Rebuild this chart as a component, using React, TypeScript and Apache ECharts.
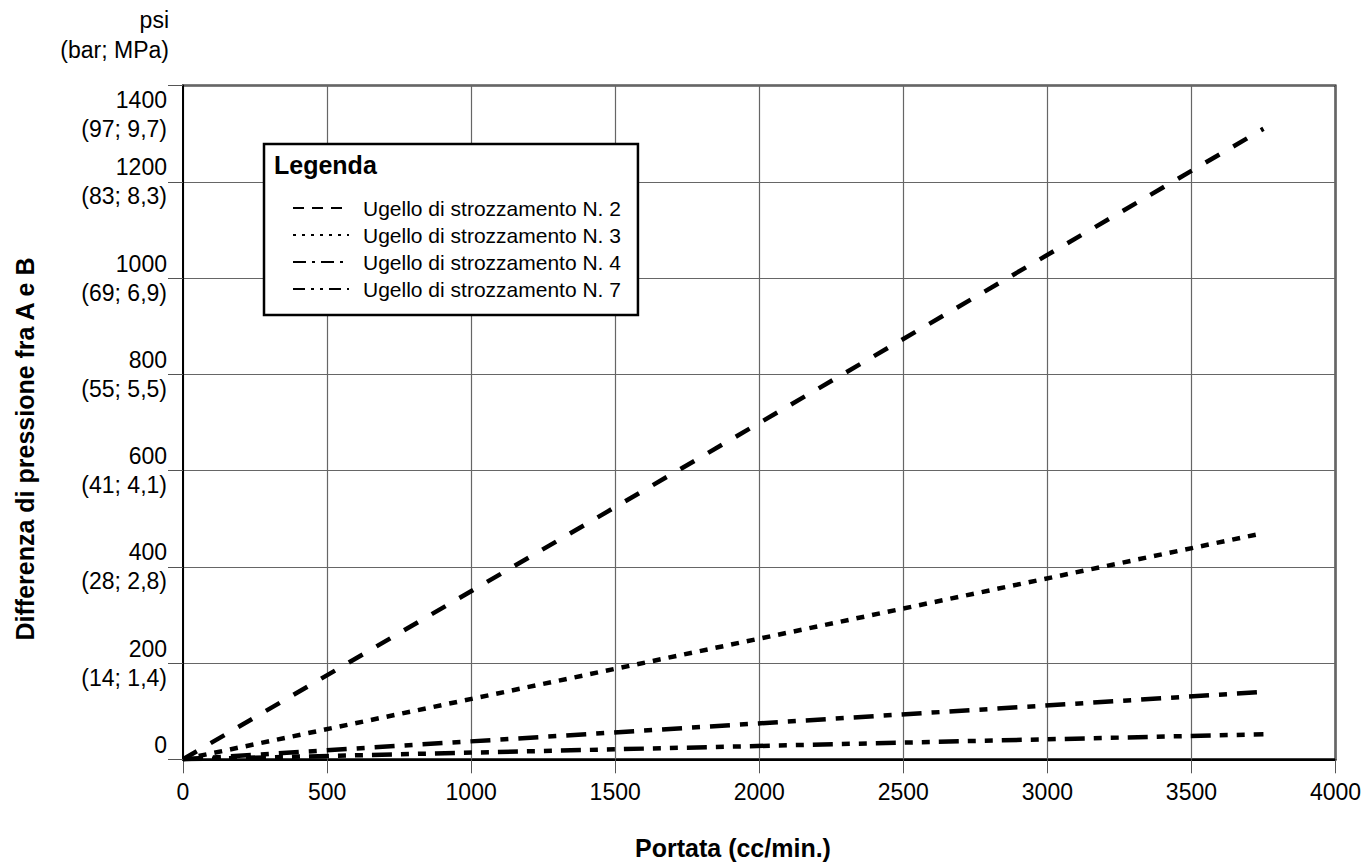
import React, { useEffect, useRef } from "react";
import * as echarts from "echarts";

const FONT = "'Liberation Sans', Arial, Helvetica, sans-serif";

const xTicks = [0, 500, 1000, 1500, 2000, 2500, 3000, 3500, 4000];
const yTicks = [0, 200, 400, 600, 800, 1000, 1200, 1400];
const yAltLabels = ["", "(14; 1,4)", "(28; 2,8)", "(41; 4,1)", "(55; 5,5)", "(69; 6,9)", "(83; 8,3)", "(97; 9,7)"];

const seriesNames = [
  "Ugello di strozzamento N. 2",
  "Ugello di strozzamento N. 3",
  "Ugello di strozzamento N. 4",
  "Ugello di strozzamento N. 7",
];
const flowX = [0, 3750];
const nozzle2 = [0, 1310];
const nozzle3 = [0, 470];
const nozzle4 = [0, 140];
const nozzle7 = [0, 52];

const seriesValues = [nozzle2, nozzle3, nozzle4, nozzle7];
const lineDash = [
  [16, 16],
  [8, 8],
  [20, 10, 8, 10],
  [20, 9, 8, 9, 8, 9],
];
const legendDash = [
  [11, 8],
  [3, 6],
  [13, 6, 3, 6],
  [12, 6, 3, 6, 3, 6],
];

export default function App() {
  const ref = useRef<HTMLDivElement>(null);
  useEffect(() => {
    if (!ref.current) return;
    const chart = echarts.init(ref.current, null, { renderer: "svg" });
    chart.setOption({
      animation: false,
      backgroundColor: "#ffffff",
      textStyle: { fontFamily: FONT },
      grid: {
        left: 183,
        top: 85.5,
        right: 35.5,
        bottom: 105.7,
        show: true,
        borderColor: "#000",
        borderWidth: 2,
        backgroundColor: "transparent",
      },
      xAxis: {
        type: "value",
        min: xTicks[0],
        max: xTicks[xTicks.length - 1],
        interval: 500,
        axisLine: { show: true, onZero: false, lineStyle: { color: "#000", width: 2 } },
        axisTick: { show: true, length: 14, lineStyle: { color: "#555", width: 1 } },
        axisLabel: {
          color: "#000",
          fontSize: 23,
          fontFamily: FONT,
          margin: 21,
          formatter: (v: number) => String(v),
        },
        splitLine: { show: true, lineStyle: { color: "#666", width: 1.2 } },
      },
      yAxis: {
        type: "value",
        min: yTicks[0],
        max: yTicks[yTicks.length - 1],
        interval: 200,
        axisLine: { show: true, onZero: false, lineStyle: { color: "#000", width: 2 } },
        axisTick: { show: true, length: 15, lineStyle: { color: "#555", width: 1 } },
        axisLabel: {
          color: "#000",
          fontSize: 23,
          fontFamily: FONT,
          margin: 16,
          lineHeight: 29,
          align: "right",
          verticalAlignMaxLabel: "top",
          verticalAlignMinLabel: "bottom",
          formatter: (v: number) => {
            const i = yTicks.indexOf(v);
            const alt = i >= 0 ? yAltLabels[i] : "";
            return alt ? `${v}\n${alt}` : `${v}`;
          },
        },
        splitLine: { show: true, lineStyle: { color: "#666", width: 1.2 } },
      },
      legend: {
        show: true,
        orient: "vertical",
        left: 264,
        top: 144,
        padding: [53.5, 17, 15.5, 28],
        itemGap: 6,
        itemWidth: 56,
        itemHeight: 14,
        backgroundColor: "#fff",
        borderColor: "#000",
        borderWidth: 2.5,
        borderRadius: 0,
        selectedMode: false,
        textStyle: { color: "#000", fontSize: 21, fontFamily: FONT, lineHeight: 21, padding: [0, 0, 0, 9] },
        data: seriesNames.map((n, i) => ({
          name: n,
          itemStyle: { opacity: 0 },
          lineStyle: { color: "#000", width: 2, type: legendDash[i], cap: "butt" },
        })),
      },
      series: seriesNames.map((n, i) => ({
        name: n,
        type: "line",
        symbol: "none",
        showSymbol: false,
        data: flowX.map((x, j) => [x, seriesValues[i][j]]),
        lineStyle: { color: "#000", width: 4.5, type: lineDash[i], cap: "butt" },
        itemStyle: { color: "#000" },
        z: 3,
      })),
      graphic: [
        {
          type: "text",
          x: 169,
          y: 20,
          style: { text: "psi", fill: "#000", font: `23px ${FONT}`, align: "right", verticalAlign: "middle" },
        },
        {
          type: "text",
          x: 169,
          y: 50,
          style: { text: "(bar; MPa)", fill: "#000", font: `23px ${FONT}`, align: "right", verticalAlign: "middle" },
        },
        {
          type: "text",
          x: 274,
          y: 165,
          z: 100,
          style: { text: "Legenda", fill: "#000", font: `bold 25px ${FONT}`, align: "left", verticalAlign: "middle" },
        },
        {
          type: "text",
          x: 733,
          y: 848,
          style: { text: "Portata (cc/min.)", fill: "#000", font: `bold 25px ${FONT}`, align: "center", verticalAlign: "middle" },
        },
        {
          type: "text",
          x: 25,
          y: 449,
          rotation: Math.PI / 2,
          style: {
            text: "Differenza di pressione fra A e B",
            fill: "#000",
            font: `bold 25px ${FONT}`,
            align: "center",
            verticalAlign: "middle",
          },
        },
      ],
    });
    return () => chart.dispose();
  }, []);
  return <div ref={ref} style={{ position: "fixed", left: 0, top: 0, width: 1371, height: 865 }} />;
}
